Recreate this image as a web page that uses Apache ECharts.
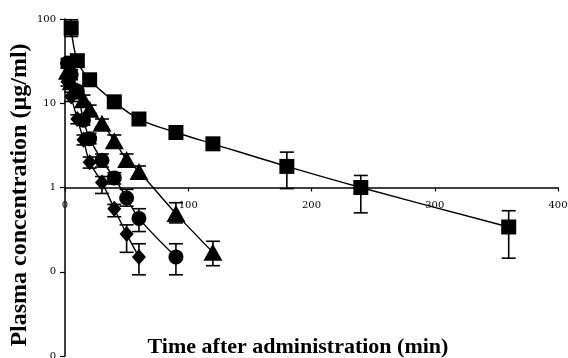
<!DOCTYPE html>
<html>
<head>
<meta charset="utf-8">
<script src="https://cdn.jsdelivr.net/npm/echarts@6/dist/echarts.min.js"></script>
<style>html,body{margin:0;padding:0;background:#fff}#c{width:568px;height:358px}</style>
</head>
<body>
<div id="c"></div>
<script>
// Data
const xTicks = [0, 100, 200, 300, 400];
const yTicks = [0.01, 0.1, 1, 10, 100];

const sqT  = [5, 10, 20, 40, 60, 90, 120, 180, 240, 360];
const sqV  = [78, 32, 19, 10.4, 6.5, 4.5, 3.3, 1.78, 1.0, 0.34];
const sqHi = [98, 36, 21, 11.5, 7.2, 5.0, 3.6, 2.63, 1.39, 0.53];
const sqLo = [62, 28, 17, 9.4, 5.8, 4.0, 3.0, 0.97, 0.50, 0.145];

const triT  = [2, 5, 10, 15, 20, 30, 40, 50, 60, 90, 120];
const triV  = [24, 18, 14, 11, 8.5, 5.8, 3.6, 2.15, 1.55, 0.49, 0.17];
const triHi = [27, 20, 16, 12.5, 9.5, 6.5, 4.2, 2.5, 1.8, 0.66, 0.23];
const triLo = [21, 16, 12, 9.7, 7.6, 5.2, 3.1, 1.85, 1.3, 0.38, 0.118];

const cirT  = [2, 5, 10, 15, 20, 30, 40, 50, 60, 90];
const cirV  = [30, 22, 14, 6.3, 3.8, 2.1, 1.3, 0.75, 0.43, 0.15];
const cirHi = [34, 25, 16, 7.2, 4.4, 2.5, 1.5, 0.95, 0.56, 0.215];
const cirLo = [26, 19, 12, 5.5, 3.3, 1.75, 1.1, 0.6, 0.30, 0.092];

const diaT  = [2, 5, 10, 15, 20, 30, 40, 50, 60];
const diaV  = [18, 12, 6.5, 3.7, 2.0, 1.15, 0.56, 0.28, 0.15];
const diaHi = [20, 13.5, 7.3, 4.2, 2.3, 1.35, 0.63, 0.36, 0.215];
const diaLo = [16, 10.5, 5.7, 3.2, 1.7, 0.85, 0.45, 0.17, 0.092];

const tickFont = 'DejaVu Serif';
const chart = echarts.init(document.getElementById('c'));

function pts(t, v) { return t.map((x, i) => [x, v[i]]); }
function errs(t, lo, hi) { return t.map((x, i) => [x, lo[i], hi[i]]); }

function lineSeries(t, v, symbol, size) {
  return {
    type: 'line', data: pts(t, v), smooth: 0.35,
    symbol: symbol, symbolSize: size, showAllSymbol: true,
    lineStyle: { color: '#000', width: 1.4 },
    itemStyle: { color: '#000', borderWidth: 0 },
    z: 3, animation: false
  };
}
function errSeries(t, lo, hi) {
  return {
    type: 'custom', data: errs(t, lo, hi), z: 2, animation: false,
    encode: { x: 0, y: [1, 2] },
    renderItem: function (params, api) {
      const x = api.value(0);
      const a = api.coord([x, api.value(1)]);
      const b = api.coord([x, api.value(2)]);
      const w = 7;
      const st = { stroke: '#000', lineWidth: 1.6 };
      return {
        type: 'group', children: [
          { type: 'line', shape: { x1: a[0], y1: a[1], x2: b[0], y2: b[1] }, style: st },
          { type: 'line', shape: { x1: a[0] - w, y1: a[1], x2: a[0] + w, y2: a[1] }, style: st },
          { type: 'line', shape: { x1: b[0] - w, y1: b[1], x2: b[0] + w, y2: b[1] }, style: st }
        ]
      };
    }
  };
}

const option = {
  backgroundColor: '#fff',
  animation: false,
  grid: { left: 65, right: 10, top: 19, bottom: 2, containLabel: false, outerBoundsMode: 'none' },
  xAxis: {
    type: 'value', min: xTicks[0], max: xTicks[xTicks.length - 1], interval: 100,
    position: 'bottom', offset: -168,
    axisLine: { onZero: false, lineStyle: { color: '#000', width: 1.5 } },
    axisTick: { show: true, inside: false, length: 4, lineStyle: { color: '#000', width: 1.2 } },
    axisLabel: { color: '#000', fontFamily: tickFont, fontSize: 10, margin: 13 },
    splitLine: { show: false }
  },
  yAxis: {
    type: 'log', min: yTicks[0], max: yTicks[yTicks.length - 1], logBase: 10,
    axisLine: { show: true, lineStyle: { color: '#000', width: 1.5 } },
    axisTick: { show: true, length: 5, lineStyle: { color: '#000', width: 1.2 } },
    axisLabel: {
      color: '#000', fontFamily: tickFont, fontSize: 10, margin: 9,
      formatter: function (v) { return v >= 1 ? String(Math.round(v)) : '0'; }
    },
    splitLine: { show: false }
  },
  graphic: [
    { type: 'text', rotation: Math.PI / 2,
      style: { text: 'Plasma concentration (µg/ml)', font: 'bold 24px "Liberation Serif"', fill: '#000',
               textAlign: 'center', textVerticalAlign: 'middle' },
      x: 20, y: 195 },
    { type: 'text',
      style: { text: 'Time after administration (min)', font: 'bold 22px "Liberation Serif"', fill: '#000',
               textAlign: 'center', textVerticalAlign: 'middle' },
      x: 298, y: 347 }
  ],
  series: [
    errSeries(sqT, sqLo, sqHi),
    errSeries(triT, triLo, triHi),
    errSeries(cirT, cirLo, cirHi),
    errSeries(diaT, diaLo, diaHi),
    lineSeries(sqT, sqV, 'rect', 15),
    lineSeries(triT, triV, 'triangle', [19, 17]),
    lineSeries(cirT, cirV, 'circle', 15),
    lineSeries(diaT, diaV, 'diamond', [14, 16])
  ]
};
chart.setOption(option);
// place the x axis so that it crosses the y axis at 1
const yOne = chart.convertToPixel({ yAxisIndex: 0 }, 1);
const bottomPx = 358 - 2;
chart.setOption({ xAxis: { offset: -(bottomPx - yOne) } });
</script>
</body>
</html>
